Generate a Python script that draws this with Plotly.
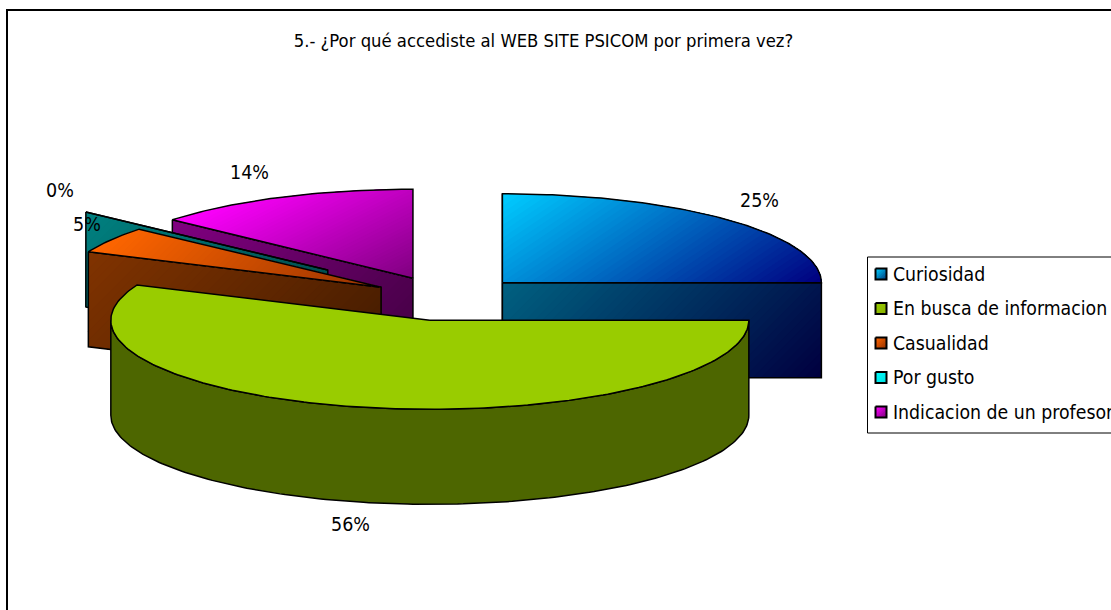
import math
import plotly.graph_objects as go

# ---- data ----
categories = ["Curiosidad", "En busca de informacion", "Casualidad", "Por gusto", "Indicacion de un profesor"]
values = [25.0, 56.5, 4.8, 0.1, 13.6]
pulls = [0.25, 0.25, 0.24, 0.49, 0.25]
title_text = "5.- ¿Por qué accediste al WEB SITE PSICOM por primera vez?"

# ---- styles ----
top_colors = [("#00CCFF", "#000080"), ("#99CC00", "#99CC00"), ("#FF6600", "#993300"),
              ("#00CCCC", "#008080"), ("#FF00FF", "#800080")]
wall_colors = [("#006080", "#000040"), ("#4D6600", "#4D6600"), ("#803300", "#401A00"),
               ("#008080", "#004040"), ("#800080", "#400040")]
legend_colors = [("#00CCFF", "#004080"), ("#99CC00", "#88B000"), ("#FF6600", "#993300"),
                 ("#00FFFF", "#00E0E0"), ("#FF00FF", "#800080")]
label_nudges = [(-1, -2), (5, -1), (12, -3), (7, -6), (-7, -3)]
FONT = "DejaVu Sans Condensed, Noto Sans"
CX, CY, RX, RY, DEPTH = 446.0, 298.5, 319.0, 89.0, 95.0
BANDS = 48

fig = go.Figure()


def hexrgb(c):
    return tuple(int(c[i:i + 2], 16) for i in (1, 3, 5))


def mix(a, b, t):
    ra, rb = hexrgb(a), hexrgb(b)
    return "rgb(%d,%d,%d)" % tuple(round(x + (y - x) * t) for x, y in zip(ra, rb))


def clip(poly, ux, uy, t0):
    out = []
    n = len(poly)
    for i in range(n):
        p, q = poly[i], poly[(i + 1) % n]
        a, b = p[0] * ux + p[1] * uy - t0, q[0] * ux + q[1] * uy - t0
        if a >= 0:
            out.append(p)
        if (a >= 0) != (b >= 0):
            s = a / (a - b)
            out.append((p[0] + (q[0] - p[0]) * s, p[1] + (q[1] - p[1]) * s))
    return out


def surface(poly, colors, direction=(1, 1), bands=BANDS, width=1.5):
    ux, uy = direction
    ts = [p[0] * ux + p[1] * uy for p in poly]
    lo, hi = min(ts), max(ts)
    n = 1 if colors[0] == colors[1] else bands
    for i in range(n):
        piece = poly if i == 0 else clip(poly, ux, uy, lo + (hi - lo) * i / n)
        if len(piece) < 3:
            continue
        fig.add_trace(go.Scatter(
            x=[p[0] for p in piece] + [piece[0][0]], y=[p[1] for p in piece] + [piece[0][1]],
            mode="lines", fill="toself", fillcolor=mix(colors[0], colors[1], i / max(n - 1, 1)),
            line=dict(width=0), hoverinfo="skip", showlegend=False))
    fig.add_trace(go.Scatter(
        x=[p[0] for p in poly] + [poly[0][0]], y=[p[1] for p in poly] + [poly[0][1]],
        mode="lines", line=dict(color="black", width=width), hoverinfo="skip", showlegend=False))


total = sum(values)
start = 0.0
slices = []
for v, pull in zip(values, pulls):
    sweep = v / total * 360.0
    mid = math.radians(start + sweep / 2)
    ax = CX + pull * RX * math.sin(mid)
    ay = CY - pull * RY * math.cos(mid)
    slices.append(dict(a0=start, a1=start + sweep, ax=ax, ay=ay, mid=mid))
    start += sweep


def rim(s, a0, a1, dy=0.0):
    n = max(int(abs(a1 - a0)), 2)
    return [(s["ax"] + RX * math.sin(math.radians(a0 + (a1 - a0) * k / n)),
             s["ay"] - RY * math.cos(math.radians(a0 + (a1 - a0) * k / n)) + dy) for k in range(n + 1)]


def draw_slice(i, direction_top=(1, 1), direction_wall=(1, 1)):
    s = slices[i]
    apex = (s["ax"], s["ay"])
    # radial wall of the leading edge, when it faces the viewer
    if 180 < s["a0"] < 360 or s["a1"] <= 90:
        e = rim(s, s["a0"], s["a0"])[0]
        surface([e, apex, (apex[0], apex[1] + DEPTH), (e[0], e[1] + DEPTH)], wall_colors[i], direction_wall)
    if s["a1"] <= 90 + 1e-6:
        e = rim(s, s["a1"], s["a1"])[0]
        surface([apex, e, (e[0], e[1] + DEPTH), (apex[0], apex[1] + DEPTH)], wall_colors[i], direction_wall)
    # outer wall for the part of the arc that faces the viewer
    lo, hi = max(s["a0"], 90), min(s["a1"], 270)
    if hi > lo:
        surface(rim(s, lo, hi) + rim(s, hi, lo, DEPTH), wall_colors[i], direction_wall)
    surface([apex] + rim(s, s["a0"], s["a1"]), top_colors[i], direction_top)


for i, dt in [(0, (1, 1.5)), (4, (1, 2)), (3, (1, 1)), (2, (1, 1)), (1, (1, 1))]:
    draw_slice(i, dt)

annotations = []
# percentage labels
for v, s, nudge in zip(values, slices, label_nudges):
    sx, cy = math.sin(s["mid"]), math.cos(s["mid"])
    lx = s["ax"] + RX * sx * 1.08 + math.copysign(14, sx) + nudge[0]
    ly = s["ay"] - RY * cy * 1.27 + (DEPTH if cy < 0 else 0) + nudge[1]
    annotations.append(dict(x=lx, y=ly, text=f"{v / total * 100:.0f}%", showarrow=False,
                            xanchor="center", yanchor="middle", font=dict(size=19.5, color="black", family=FONT)))

# legend
LX, LTOP, LBOTTOM, LROW0, LSTEP = 867.5, 257.0, 433.0, 274.0, 34.5
shapes = [dict(type="rect", x0=7, y0=10, x1=1200, y1=700, line=dict(color="black", width=2)),
          dict(type="rect", x0=LX, y0=LTOP, x1=1200, y1=LBOTTOM, line=dict(color="black", width=1))]
for i, name in enumerate(categories):
    yy = LROW0 + LSTEP * i
    surface([(LX + 8, yy - 5.5), (LX + 19, yy - 5.5), (LX + 19, yy + 5.5), (LX + 8, yy + 5.5)],
            legend_colors[i], (1, 1), bands=8, width=2)
    annotations.append(dict(x=LX + 23.5, y=yy, text=name, showarrow=False, xanchor="left", yanchor="middle",
                            font=dict(size=19.3, color="black", family=FONT)))

fig.update_layout(
    width=1111, height=610, autosize=False, margin=dict(l=0, r=0, t=0, b=0),
    paper_bgcolor="white", plot_bgcolor="white", showlegend=False,
    title=dict(text=title_text, x=543.5 / 1111, xanchor="center", y=1 - 41 / 610, yanchor="middle",
               font=dict(size=18.3, color="black", family=FONT)),
    xaxis=dict(range=[0, 1111], visible=False, fixedrange=True),
    yaxis=dict(range=[610, 0], visible=False, fixedrange=True),
    shapes=shapes, annotations=annotations,
)
fig.write_html("out.html", config=dict(displayModeBar=False),
               post_script="document.body.style.margin='0';document.body.style.overflow='hidden';")
